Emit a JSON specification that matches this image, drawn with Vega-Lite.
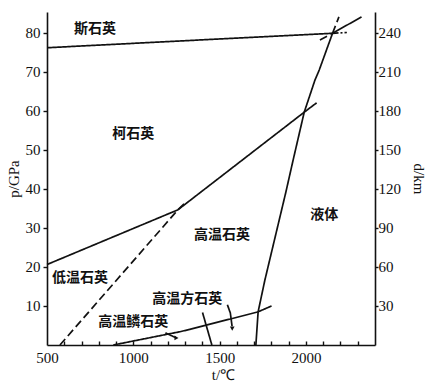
{
  "$schema": "https://vega.github.io/schema/vega-lite/v6.json",
  "width": 328,
  "height": 333,
  "autosize": {"type": "none"},
  "padding": {"left": 47, "top": 12, "right": 57, "bottom": 39},
  "background": "white",
  "config": {
    "view": {"stroke": null},
    "axis": {"labelFont": "Liberation Serif", "titleFont": "Liberation Serif", "labelFontSize": 15, "titleFontSize": 15, "titleFontWeight": "normal", "labelColor": "#111", "titleColor": "#111", "domainColor": "#111", "tickColor": "#111", "domainWidth": 1.6, "tickWidth": 1.4, "grid": false, "labelOverlap": false}
  },
  "datasets": {
    "lines": [
      {"seg": "A", "type": "stable", "t": 500, "p": 76.1},
      {"seg": "A", "type": "stable", "t": 1479, "p": 78.3},
      {"seg": "A", "type": "stable", "t": 2154, "p": 79.8},
      {"seg": "A", "type": "stable", "t": 2322, "p": 84.0},
      {"seg": "A1", "type": "extrapolated", "t": 2154, "p": 79.8},
      {"seg": "A1", "type": "extrapolated", "t": 2237, "p": 80.0},
      {"seg": "A2", "type": "metastable", "t": 2081, "p": 78.1},
      {"seg": "A2", "type": "metastable", "t": 2154, "p": 79.8},
      {"seg": "A3", "type": "metastable", "t": 2154, "p": 79.8},
      {"seg": "A3", "type": "metastable", "t": 2191, "p": 84.0},
      {"seg": "B", "type": "stable", "t": 500, "p": 20.6},
      {"seg": "B", "type": "stable", "t": 1258, "p": 34.6},
      {"seg": "B", "type": "stable", "t": 1990, "p": 59.6},
      {"seg": "B", "type": "stable", "t": 2062, "p": 62.0},
      {"seg": "Q", "type": "metastable", "t": 575, "p": 0},
      {"seg": "Q", "type": "metastable", "t": 1258, "p": 34.6},
      {"seg": "Q", "type": "metastable", "t": 1300, "p": 36.4},
      {"seg": "C", "type": "stable", "t": 1710, "p": 0},
      {"seg": "C", "type": "stable", "t": 1723, "p": 8.5},
      {"seg": "C", "type": "stable", "t": 1762, "p": 16.6},
      {"seg": "C", "type": "stable", "t": 1884, "p": 39.2},
      {"seg": "C", "type": "stable", "t": 1926, "p": 47.4},
      {"seg": "C", "type": "stable", "t": 1990, "p": 59.6},
      {"seg": "C", "type": "stable", "t": 2052, "p": 67.8},
      {"seg": "C", "type": "stable", "t": 2077, "p": 70.4},
      {"seg": "C", "type": "stable", "t": 2154, "p": 79.8},
      {"seg": "D", "type": "stable", "t": 884, "p": 0},
      {"seg": "D", "type": "stable", "t": 1270, "p": 3.4},
      {"seg": "D", "type": "stable", "t": 1328, "p": 4.0},
      {"seg": "D", "type": "stable", "t": 1723, "p": 8.5},
      {"seg": "D", "type": "stable", "t": 1801, "p": 10.0},
      {"seg": "E", "type": "stable", "t": 1401, "p": 8.3},
      {"seg": "E", "type": "stable", "t": 1455, "p": 0},
      {"seg": "arrow1", "type": "pointer", "t": 1545, "p": 10.3},
      {"seg": "arrow1", "type": "pointer", "t": 1562, "p": 8.2},
      {"seg": "arrow1", "type": "pointer", "t": 1572, "p": 4.8},
      {"seg": "arrow2", "type": "pointer", "t": 1186, "p": 3.1},
      {"seg": "arrow2", "type": "pointer", "t": 1245, "p": 1.9}
    ],
    "heads": [
      {"t": 1573, "p": 4.2, "dir": "down"},
      {"t": 1250, "p": 1.8, "dir": "right"}
    ],
    "labels": [
      {"name": "斯石英", "t": 778, "p": 80.8},
      {"name": "柯石英", "t": 1000, "p": 53.9},
      {"name": "高温石英", "t": 1513, "p": 28.1},
      {"name": "液体", "t": 2106, "p": 33.2},
      {"name": "低温石英", "t": 691, "p": 17.2},
      {"name": "高温方石英", "t": 1313, "p": 11.9},
      {"name": "高温鳞石英", "t": 1000, "p": 5.9}
    ],
    "depth": [{"d": 0}, {"d": 255.75}]
  },
  "layer": [
    {
      "layer": [
        {
          "data": {"name": "lines"},
          "mark": {"type": "line", "color": "#111", "strokeWidth": 1.7},
          "encoding": {
            "x": {"field": "t", "type": "quantitative", "scale": {"domain": [500, 2400], "nice": false, "zero": false},
              "axis": {"orient": "bottom", "title": "t/℃", "titleX": 176, "titlePadding": 2, "values": [500, 1000, 1500, 2000], "format": "d", "tickSize": 0, "labelPadding": 5, "labelFlush": false}},
            "y": {"field": "p", "type": "quantitative", "scale": {"domain": [0, 85.25], "nice": false},
              "axis": {"title": "p/GPa", "values": [10,20,30,40,50,60,70,80], "tickSize": 4, "labelPadding": 3, "titlePadding": 4}},
            "detail": {"field": "seg"},
            "strokeDash": {"field": "type", "type": "nominal", "legend": null,
              "scale": {"domain": ["stable", "metastable", "extrapolated", "pointer"], "range": [[1, 0], [8, 4], [6, 2, 2, 2], [1, 0]]}},
            "strokeWidth": {"field": "type", "type": "nominal", "legend": null,
              "scale": {"domain": ["stable", "metastable", "extrapolated", "pointer"], "range": [1.7, 1.7, 1.2, 1.2]}}
          }
        },
        {
          "data": {"name": "heads"},
          "mark": {"type": "point", "filled": true, "color": "#111", "size": 22, "opacity": 1},
          "encoding": {
            "x": {"field": "t", "type": "quantitative", "axis": {"orient": "bottom", "offset": -4, "title": null, "labels": false, "domain": false, "tickSize": 4, "values": [600,700,800,900,1000,1100,1200,1300,1400,1500,1600,1700,1800,1900,2000,2100,2200,2300]}},
            "y": {"field": "p", "type": "quantitative"},
            "shape": {"field": "dir", "type": "nominal", "legend": null, "scale": {"domain": ["down", "right"], "range": ["triangle-down", "triangle-right"]}}
          }
        },
        {
          "data": {"name": "labels"},
          "mark": {"type": "text", "font": "Noto Sans CJK SC", "fontSize": 14, "fontWeight": "bold", "color": "#111", "align": "center", "baseline": "middle"},
          "encoding": {
            "x": {"field": "t", "type": "quantitative", "axis": null},
            "y": {"field": "p", "type": "quantitative"},
            "text": {"field": "name"}
          }
        }
      ],
      "resolve": {"axis": {"x": "independent"}}
    },
    {
      "data": {"name": "depth"},
      "mark": {"type": "tick", "opacity": 0},
      "encoding": {
        "y": {"field": "d", "type": "quantitative", "scale": {"domain": [0, 255.75], "nice": false},
          "axis": {"orient": "right", "title": "d/km", "values": [30,60,90,120,150,180,210,240], "tickSize": 3, "labelPadding": 0, "titlePadding": 10}}
      }
    }
  ],
  "resolve": {"scale": {"y": "independent"}}
}
